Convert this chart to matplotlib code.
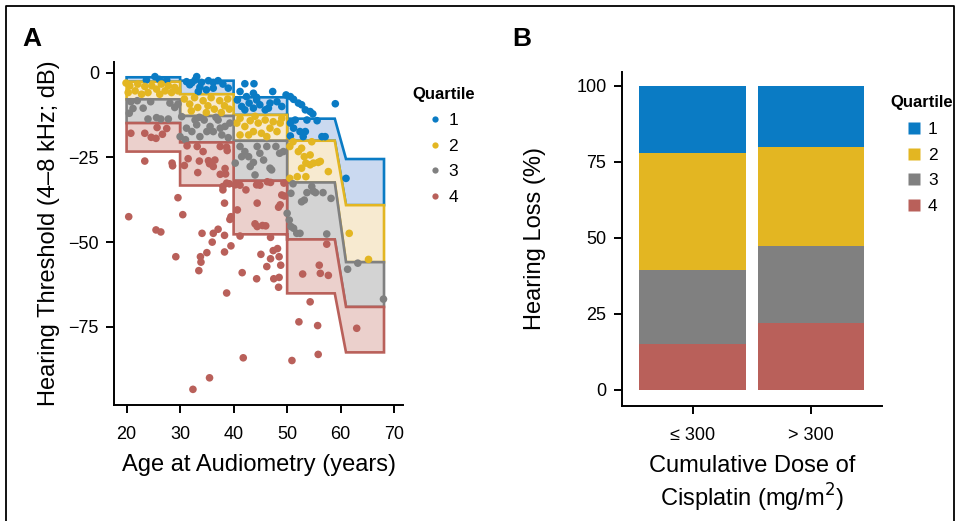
import matplotlib
matplotlib.use("Agg")
import matplotlib.pyplot as plt
from matplotlib.lines import Line2D

plt.rcParams['font.family'] = ['Liberation Sans', 'DejaVu Sans']

# colours per quartile
COLORS = ['#0a7bc4', '#e3b622', '#808080', '#b9605a']
FILLS = ['#cad9f0', '#f7ead0', '#d3d3d3', '#ebd0cc']
QUARTILES = ['1', '2', '3', '4']

# ---- panel A: band edges (age) and band limits (dB) per age decade
band_left = [20, 30, 40, 50, 61.0]
band_right = [30, 40, 50, 58.9, 68.1]
q1_top = [-1.4, -2.4, -7.3, -13.6, -25.5]
q2_top = [-2.7, -6.4, -12.5, -20.1, -39.1]
q3_top = [-7.9, -12.8, -20.1, -32.4, -55.9]
q4_top = [-14.9, -20.6, -31.9, -49.2, -69.1]
q4_bot = [-23.3, -33.3, -47.7, -65.1, -82.5]

# ---- panel A: individual patients (age, threshold)
q1_age = [25.3, 23.7, 26.1, 27.5, 33.1, 32.8, 34.0, 35.3, 36.2, 37.1, 31.8, 31.2, 33.7,
          34.9, 36.2, 33.4, 39.0, 42.1, 43.8, 41.2, 42.4, 43.7, 44.3, 47.3, 40.7, 41.5,
          42.9, 43.7, 44.9, 45.9, 46.8, 48.1, 49.0, 44.3, 42.1, 46.5, 49.8, 50.6, 51.2,
          52.1, 52.7, 53.4, 54.3, 54.8, 59.0, 50.6, 51.2, 52.4, 53.0, 53.7, 55.6, 56.5,
          57.1, 51.5, 53.4, 50.6, 61.0, 38.0, 32.2]
q1_db = [-1.2, -2.2, -2.0, -2.2, -1.2, -2.2, -2.9, -2.4, -2.9, -2.4, -3.6, -2.7, -4.3,
         -5.1, -4.6, -5.6, -4.6, -3.3, -3.3, -5.6, -7.1, -6.1, -7.3, -5.6, -8.1, -10.0,
         -9.0, -10.5, -9.5, -11.0, -9.0, -8.6, -10.0, -8.1, -11.0, -10.5, -6.6, -7.1, -7.9,
         -9.0, -9.5, -11.0, -11.5, -12.2, -9.2, -14.9, -16.4, -17.4, -18.9, -14.0, -14.2, -18.9,
         -18.9, -14.0, -17.4, -18.7, -31.2, -3.4, -3.0]

q2_age = [19.9, 20.6, 21.6, 22.1, 23.4, 24.0, 24.7, 25.6, 26.5, 27.2, 27.8, 28.4, 29.0,
          20.3, 22.8, 29.6, 26.2, 30.8, 31.8, 32.7, 33.3, 34.3, 35.2, 35.8, 36.4, 37.4,
          38.3, 38.9, 39.2, 32.1, 34.9, 37.7, 40.6, 41.2, 42.1, 43.1, 43.7, 44.6, 45.2,
          45.9, 46.8, 47.4, 48.1, 48.7, 49.0, 42.8, 41.2, 46.2, 44.0, 50.5, 51.1, 52.1,
          52.7, 53.2, 53.5, 52.7, 54.3, 54.9, 55.8, 56.2, 57.7, 51.9, 53.5, 50.5, 54.6,
          54.3, 61.6, 65.2]
q2_db = [-3.1, -3.9, -5.4, -3.4, -4.1, -5.9, -3.9, -4.9, -3.4, -5.4, -3.9, -5.9, -4.4,
         -5.9, -6.4, -5.4, -6.4, -7.8, -9.3, -7.4, -10.3, -8.3, -9.8, -7.4, -10.8, -8.3,
         -9.8, -7.8, -10.8, -11.3, -11.8, -11.8, -14.9, -13.5, -15.9, -14.2, -17.4, -14.9, -17.9,
         -14.0, -16.4, -14.5, -17.4, -14.9, -13.5, -18.4, -18.4, -18.9, -12.9, -21.8, -20.4, -23.3,
         -22.3, -24.8, -26.7, -28.2, -27.2, -26.7, -26.5, -26.2, -29.2, -30.7, -30.7, -31.2, -20.4,
         -24.3, -47.4, -55.1]

q3_age = [20.8, 21.2, 23.1, 24.5, 24.0, 25.6, 26.4, 27.8, 28.1, 29.0, 29.6, 20.5, 22.0,
          30.3, 31.2, 32.2, 33.1, 33.7, 34.5, 35.6, 36.2, 37.1, 37.8, 38.4, 39.3, 33.6,
          36.7, 32.8, 35.0, 37.5, 30.0, 31.0, 39.0, 40.3, 41.2, 42.1, 42.8, 43.7, 44.9,
          45.6, 46.2, 46.8, 47.9, 48.6, 49.3, 44.0, 47.1, 43.1, 41.5, 44.4, 50.7, 51.1,
          52.7, 53.2, 53.7, 54.9, 55.3, 56.7, 54.6, 58.2, 50.4, 50.7, 51.2, 51.8, 52.4,
          57.4, 50.0, 61.3, 63.2, 68.0]
q3_db = [-8.6, -10.6, -10.5, -8.6, -13.7, -13.3, -13.7, -13.7, -9.0, -10.3, -9.3, -12.0, -8.3,
         -13.0, -16.4, -17.4, -15.4, -18.9, -14.0, -15.9, -17.4, -14.0, -18.4, -15.9, -14.9, -13.2,
         -13.2, -14.0, -17.4, -16.4, -18.9, -19.8, -19.2, -26.7, -21.8, -23.3, -24.8, -26.5, -23.8,
         -25.8, -21.8, -28.2, -21.8, -23.8, -23.3, -30.2, -28.7, -27.7, -24.8, -21.8, -35.6, -32.8,
         -38.1, -37.6, -35.4, -35.0, -35.4, -35.4, -33.6, -37.1, -43.5, -45.4, -45.9, -47.4, -47.4,
         -47.6, -41.5, -58.0, -56.2, -66.8]

q4_age = [20.4, 23.4, 25.5, 26.4, 28.5, 28.6, 29.2, 29.6, 30.5, 30.8, 34.1, 33.8, 33.9,
          33.5, 35.0, 36.0, 36.2, 37.1, 38.3, 38.3, 39.5, 38.7, 38.3, 39.5, 39.3, 40.7,
          41.2, 41.6, 41.8, 32.4, 35.5, 44.3, 45.1, 46.2, 46.9, 47.4, 48.2, 48.5, 48.8,
          47.5, 48.5, 48.4, 46.9, 50.9, 52.2, 52.9, 54.3, 55.7, 55.8, 56.0, 56.2, 57.7,
          57.4, 63.0, 20.8, 23.4, 24.6, 25.5, 25.7, 26.7, 27.5, 31.3, 33.2, 34.3, 31.5,
          33.6, 35.3, 35.5, 36.2, 36.5, 37.5, 38.7, 38.8, 33.3, 37.5, 38.5, 38.4, 38.7,
          39.2, 38.0, 38.0, 40.3, 41.2, 42.3, 44.3, 44.9, 46.3, 46.9, 44.4, 44.0, 44.4,
          45.4, 46.0, 48.4, 48.7, 49.0, 49.5, 49.4]
q4_db = [-42.5, -26.1, -46.4, -47.0, -26.7, -27.5, -54.3, -36.9, -41.9, -27.4, -47.4, -54.3, -55.9,
         -58.4, -53.1, -50.0, -47.4, -46.2, -48.0, -52.9, -51.1, -65.0, -38.5, -42.5, -43.3, -40.5,
         -48.2, -59.0, -84.1, -93.4, -90.0, -60.8, -53.6, -57.2, -54.9, -52.5, -51.9, -54.3, -56.8,
         -60.8, -60.4, -63.3, -48.6, -84.9, -73.5, -59.4, -67.6, -74.6, -83.1, -56.8, -59.2, -59.8,
         -50.6, -75.4, -17.9, -17.9, -19.1, -19.4, -16.2, -18.2, -16.5, -21.6, -21.8, -23.3, -25.4,
         -26.1, -26.0, -26.9, -27.7, -25.8, -21.8, -22.0, -23.0, -29.5, -30.0, -29.9, -28.3, -32.6,
         -32.8, -33.6, -34.6, -33.1, -33.2, -34.6, -33.1, -33.2, -32.2, -32.4, -38.5, -44.6, -45.4,
         -45.1, -45.2, -39.7, -39.0, -36.1, -36.4, -32.6]

# ---- panel B: share of hearing loss quartiles by cisplatin dose (%)
dose_groups = ['\u2264 300', '> 300']
share_q1 = [22.0, 20.1]
share_q2 = [38.5, 32.5]
share_q3 = [24.4, 25.5]
share_q4 = [15.1, 21.9]

W, H = 957, 521
fig = plt.figure(figsize=(W / 100, H / 100), dpi=100)

# outer frame of the figure
fig.add_artist(Line2D([6 / W, 6 / W, 954 / W, 954 / W],
                      [-0.05, 1 - 6 / H, 1 - 6 / H, -0.05],
                      transform=fig.transFigure, color='black', lw=1.3))


def quartile_legend(handles, title_xy, left_px, top_px, pad):
    fig.text(title_xy[0] / W, 1 - title_xy[1] / H, 'Quartile', fontsize=12,
             fontweight='bold', va='center', ha='left')
    fig.legend(handles, QUARTILES, loc='upper left', frameon=False,
               bbox_to_anchor=(left_px / W, 1 - top_px / H), bbox_transform=fig.transFigure,
               borderpad=0, borderaxespad=0, fontsize=12.5, handlelength=1.0,
               handletextpad=pad, labelspacing=0.6)


# ================= panel A =================
axA = fig.add_axes([0.1194, 0.2221, 0.4214 - 0.1194, 0.8816 - 0.2221])
xs = []
for l, r in zip(band_left, band_right):
    xs += [l, r]


def steps(vals):
    out = []
    for v in vals:
        out += [v, v]
    return out


bounds = [q1_top, q2_top, q3_top, q4_top, q4_bot]
for i in range(4):
    top = steps(bounds[i])
    bot = steps(bounds[i + 1])
    axA.fill(xs + xs[::-1], top + bot[::-1], facecolor=FILLS[i],
             edgecolor=COLORS[i], lw=1.9, zorder=2 + i * 0.1)

ages = [q1_age, q2_age, q3_age, q4_age]
dbs = [q1_db, q2_db, q3_db, q4_db]
for i in range(4):
    axA.scatter(ages[i], dbs[i], s=30, color=COLORS[i], edgecolors='none', zorder=5)

axA.set_xlim(17.7, 71.7)
axA.set_ylim(-98.1, 3.2)
axA.set_xticks([20, 30, 40, 50, 60, 70])
axA.set_yticks([0, -25, -50, -75])
axA.set_xlabel('Age at Audiometry (years)', fontsize=17, labelpad=8)
axA.set_ylabel('Hearing Threshold (4\u20138 kHz; dB)', fontsize=17, labelpad=6)
dot_handles = [Line2D([], [], ls='none', marker='o', ms=4.5, color=c, mec='none') for c in COLORS]
quartile_legend(dot_handles, (412, 95), 426, 113, 0.3)
fig.text(22 / W, 1 - 46 / H, 'A', fontsize=19, fontweight='bold')

# ================= panel B =================
axB = fig.add_axes([0.6496, 0.2213, 0.9219 - 0.6496, 0.8624 - 0.2213])
pos = list(range(len(dose_groups)))
bottom = [0.0, 0.0]
for vals, col in [(share_q4, COLORS[3]), (share_q3, COLORS[2]),
                  (share_q2, COLORS[1]), (share_q1, COLORS[0])]:
    axB.bar(pos, vals, width=0.9, bottom=bottom, color=col)
    bottom = [b + v for b, v in zip(bottom, vals)]

axB.set_xlim(-0.6, 1.6)
axB.set_ylim(-5.2, 104.7)
axB.set_xticks(pos)
axB.set_xticklabels(dose_groups)
axB.set_yticks([0, 25, 50, 75, 100])
axB.set_xlabel('Cumulative Dose of\nCisplatin (mg/m$^2$)', fontsize=17, labelpad=8)
axB.set_ylabel('Hearing Loss (%)', fontsize=17, labelpad=22)
sq_handles = [Line2D([], [], ls='none', marker='s', ms=8.6, color=c, mec='none') for c in COLORS]
quartile_legend(sq_handles, (890, 103), 905, 122, 0.33)
fig.text(512 / W, 1 - 46 / H, 'B', fontsize=19, fontweight='bold')

for ax in (axA, axB):
    ax.spines['top'].set_visible(False)
    ax.spines['right'].set_visible(False)
    ax.spines['left'].set_linewidth(1.4)
    ax.spines['bottom'].set_linewidth(1.4)
    ax.tick_params(axis='both', labelsize=13, width=1.4, length=6, color='black')
    ax.tick_params(axis='x', pad=9)
    ax.tick_params(axis='y', pad=5)

fig.savefig('out.png', dpi=100)
